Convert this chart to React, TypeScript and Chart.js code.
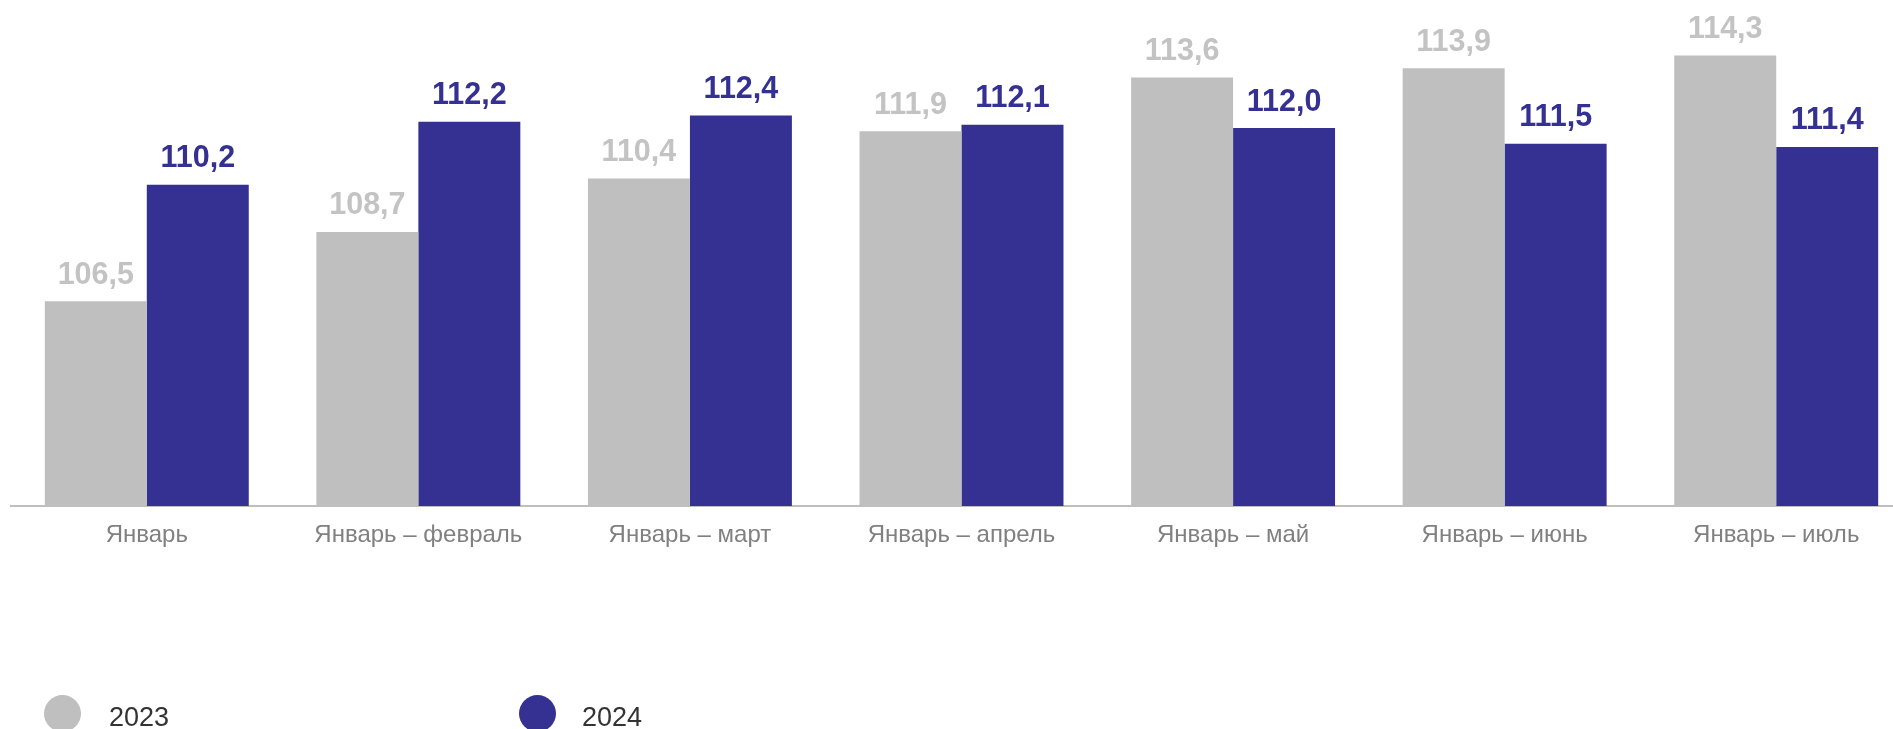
import React, { useEffect, useRef } from "react";
import { Chart, registerables } from "chart.js";

Chart.register(...registerables);

const categories = [
  "Январь",
  "Январь – февраль",
  "Январь – март",
  "Январь – апрель",
  "Январь – май",
  "Январь – июнь",
  "Январь – июль",
];
const seriesNames = ["2023", "2024"];
const values2023 = [106.5, 108.7, 110.4, 111.9, 113.6, 113.9, 114.3];
const values2024 = [110.2, 112.2, 112.4, 112.1, 112.0, 111.5, 111.4];
const yMin = 100;
const yMax = 116;

const GRAY = "#BFBFBF";
const GRAY_LABEL = "#C3C3C3";
const BLUE = "#353192";
const FONT = '"Liberation Sans", Arial, sans-serif';

const valueLabels = {
  id: "valueLabels",
  afterDatasetsDraw(chart: any) {
    const ctx = chart.ctx;
    ctx.save();
    ctx.font = `bold 30.5px ${FONT}`;
    ctx.textAlign = "center";
    ctx.textBaseline = "alphabetic";
    chart.data.datasets.forEach((ds: any, di: number) => {
      const meta = chart.getDatasetMeta(di);
      ctx.fillStyle = di === 0 ? GRAY_LABEL : BLUE;
      meta.data.forEach((bar: any, i: number) => {
        const v = ds.data[i] as number;
        const txt = v.toFixed(1).replace(".", ",");
        ctx.fillText(txt, bar.x, bar.y - 17.5);
      });
    });
    ctx.restore();
  },
};

export default function App() {
  const ref = useRef<HTMLCanvasElement>(null);
  useEffect(() => {
    if (!ref.current) return;
    const chart = new Chart(ref.current, {
      type: "bar",
      data: {
        labels: categories,
        datasets: [
          {
            label: seriesNames[0],
            data: values2023,
            backgroundColor: GRAY,
            categoryPercentage: 0.751,
            barPercentage: 1,
          },
          {
            label: seriesNames[1],
            data: values2024,
            backgroundColor: BLUE,
            categoryPercentage: 0.751,
            barPercentage: 1,
          },
        ],
      },
      options: {
        animation: false,
        responsive: false,
        maintainAspectRatio: false,
        devicePixelRatio: 1,
        layout: { padding: { left: 11, right: 8, top: 2, bottom: 0 } },
        plugins: {
          legend: { display: false },
          tooltip: { enabled: false },
        },
        scales: {
          x: {
            grid: { display: false, drawTicks: false },
            border: { display: true, color: GRAY, width: 2 },
            ticks: {
              color: "#808080",
              font: { family: FONT, size: 24 },
              padding: 15,
              maxRotation: 0,
              autoSkip: false,
            },
            afterFit: (s: any) => {
              s.height = 223;
            },
          },
          y: {
            display: false,
            min: yMin,
            max: yMax,
          },
        },
      },
      plugins: [valueLabels],
    });
    return () => chart.destroy();
  }, []);

  const legendItem = (name: string, color: string, cx: number, tx: number) => (
    <React.Fragment key={name}>
      <div
        style={{
          position: "absolute",
          left: cx - 18.5,
          top: 695,
          width: 37,
          height: 37,
          borderRadius: "50%",
          background: color,
        }}
      />
      <div
        style={{
          position: "absolute",
          left: tx,
          top: 704,
          fontFamily: FONT,
          fontSize: 27,
          lineHeight: "27px",
          color: "#333333",
          whiteSpace: "nowrap",
        }}
      >
        {name}
      </div>
    </React.Fragment>
  );

  return (
    <div
      style={{
        position: "fixed",
        left: 0,
        top: 0,
        width: 1893,
        height: 729,
        overflow: "hidden",
        background: "#ffffff",
      }}
    >
      <canvas
        ref={ref}
        width={1920}
        height={729}
        style={{ position: "absolute", left: 0, top: 0, width: 1920, height: 729 }}
      />
      {legendItem(seriesNames[0], GRAY, 62.5, 109)}
      {legendItem(seriesNames[1], BLUE, 537.5, 582)}
    </div>
  );
}
